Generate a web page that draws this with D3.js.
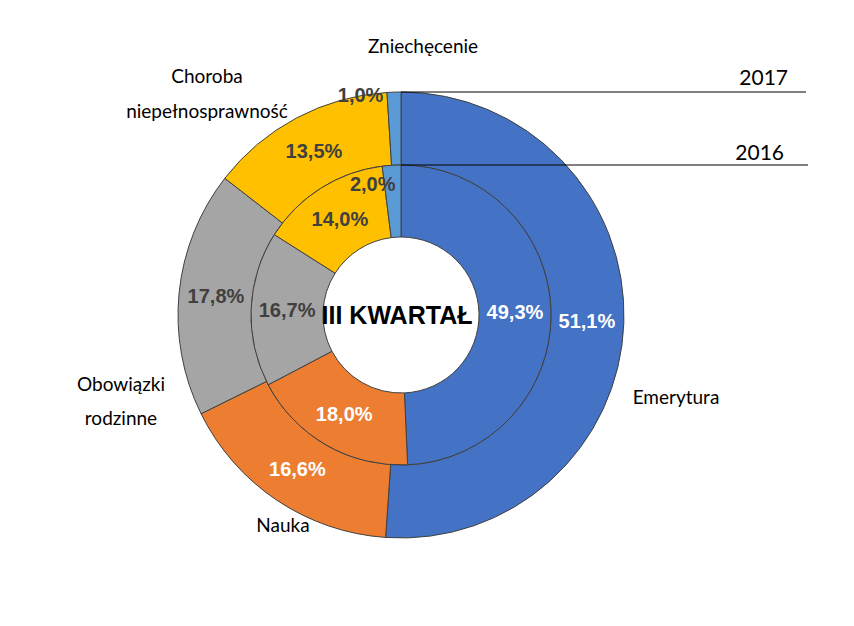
<!DOCTYPE html>
<html><head><meta charset="utf-8">
<script src="https://cdn.jsdelivr.net/npm/d3@7"></script>
<style>body{margin:0;background:#fff}</style>
</head><body>
<svg width="854" height="626"></svg>
<script>
'use strict';

var categories = ['Emerytura', 'Nauka', 'Obowiązki rodzinne', 'Choroba niepełnosprawność', 'Zniechęcenie'];
var values2017 = [51.1, 16.6, 17.8, 13.5, 1.0];
var values2016 = [49.3, 18.0, 16.7, 14.0, 2.0];
var years = ['2017', '2016'];
var colors = ['#4472C4', '#ED7D31', '#A5A5A5', '#FFC000', '#5B9BD5'];
var labelColors = ['#fff', '#fff', '#404040', '#404040', '#404040'];

var svg = d3.select('svg');
var cx = 401, cy = 315;
var g = svg.append('g').attr('transform', 'translate(' + cx + ',' + cy + ')');

var pie = d3.pie().sort(null).value(function(d){ return d; });
var fmt = function(v){ return v.toFixed(1).replace('.', ',') + '%'; };

function ring(vals, r0, r1, labelR, smallR){
	var arcs = pie(vals);
	var arc = d3.arc().innerRadius(r0).outerRadius(r1);
	g.selectAll(null).data(arcs).enter().append('path')
		.attr('d', arc)
		.attr('fill', function(d, i){ return colors[i]; })
		.attr('stroke', '#404040').attr('stroke-width', 1);
	g.selectAll(null).data(arcs).enter().append('text')
		.attr('transform', function(d, i){
			var a = (d.startAngle + d.endAngle) / 2;
			var r = labelR;
			if (i == arcs.length - 1) { r = smallR; a -= 0.15; }
			return 'translate(' + (r * Math.sin(a)) + ',' + (-r * Math.cos(a)) + ')';
		})
		.attr('text-anchor', 'middle').attr('dy', '0.35em')
		.attr('font-family', 'Liberation Sans Narrow, Arial Narrow, sans-serif')
		.attr('font-weight', 'bold').attr('font-size', 20)
		.attr('fill', function(d, i){ return labelColors[i]; })
		.text(function(d){ return fmt(d.data); });
}

ring(values2017, 150, 223, 186, 224);
ring(values2016, 78, 150, 114, 134);

g.append('text').attr('text-anchor', 'middle').attr('dy', '0.35em').attr('x', -4)
	.attr('font-family', 'Liberation Sans Narrow, Arial Narrow, sans-serif')
	.attr('font-weight', 'bold').attr('font-size', 25).attr('fill', '#000')
	.text('III KWARTAŁ');

// year leader lines
var yearLines = [{y: 92, x2: 806, ty: 85, tx: 788}, {y: 165, x2: 808, ty: 160, tx: 784}];
yearLines.forEach(function(l, i){
	svg.append('line').attr('x1', cx).attr('x2', l.x2).attr('y1', l.y).attr('y2', l.y)
		.attr('stroke', '#000').attr('stroke-width', 1);
	svg.append('text').attr('x', l.tx).attr('y', l.ty).attr('text-anchor', 'end')
		.attr('font-family', 'Lato, sans-serif').attr('font-size', 21).attr('fill', '#000')
		.text(years[i]);
});

// category labels
var catPos = [
	{x: 676, y: [397]},
	{x: 283, y: [525]},
	{x: 121, y: [384, 418]},
	{x: 207, y: [76, 111]},
	{x: 423, y: [46]}
];
var catLines = [['Emerytura'], ['Nauka'], ['Obowiązki', 'rodzinne'], ['Choroba', 'niepełnosprawność'], ['Zniechęcenie']];
catPos.forEach(function(p, i){
	catLines[i].forEach(function(t, j){
		svg.append('text').attr('x', p.x).attr('y', p.y[j]).attr('dy', '0.35em')
			.attr('text-anchor', 'middle')
			.attr('font-family', 'Lato, sans-serif').attr('font-size', 19).attr('fill', '#000')
			.text(t);
	});
});
</script>
</body></html>
